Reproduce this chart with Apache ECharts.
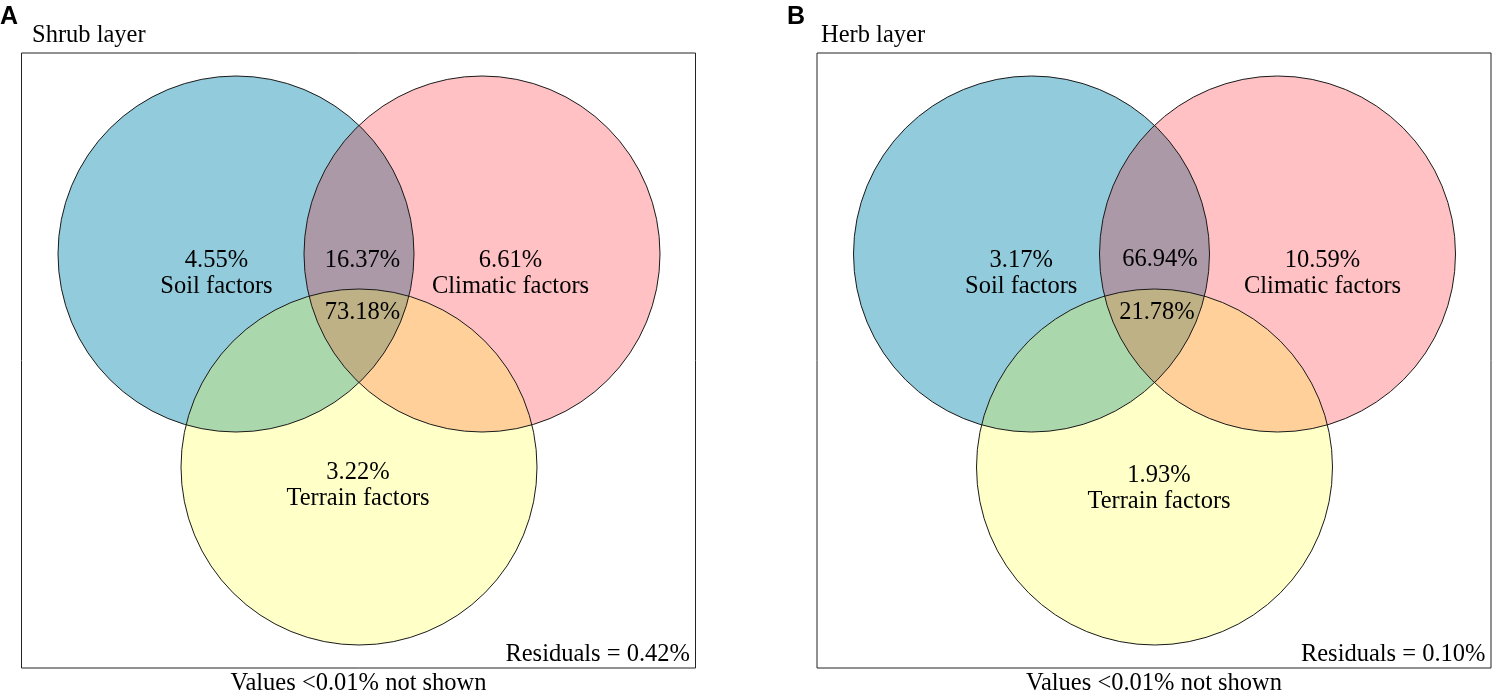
<!DOCTYPE html>
<html>
<head>
<meta charset="utf-8">
<script src="https://cdn.jsdelivr.net/npm/echarts@6/dist/echarts.min.js"></script>
<style>
    html, body { margin: 0; padding: 0; background: #fff; }
    #venn { width: 1495px; height: 695px; }
</style>
</head>
<body>
<div id="venn"></div>
<script>
// values (%)
var panelLetters = ['A', 'B'];
var panelTitles = ['Shrub layer', 'Herb layer'];
var factorNames = ['Soil factors', 'Climatic factors', 'Terrain factors'];
// order: soil, climatic, terrain, soil+climatic, all three
var shrubValues = [4.55, 6.61, 3.22, 16.37, 73.18];
var herbValues = [3.17, 10.59, 1.93, 66.94, 21.78];
var residuals = [0.42, 0.10];
var footNote = 'Values <0.01% not shown';

// layout (box units = px inside each frame)
var boxW = 674, boxH = 615;
var circleXY = [[214.5, 201], [460.5, 201], [337.5, 414]];
var circleR = 178;
var labelXY = [
    [[195, 220.7], [489, 220.7], [336.5, 432.3], [341, 208], [341, 259.5]],
    [[204.2, 220.8], [505.5, 220.8], [342, 435.3], [343, 207], [340, 259.5]]
];
var fills = ['#91cbdc', 'rgba(255,0,10,0.245)', 'rgba(255,255,30,0.245)'];
var gridLeft = [21.5, 817];
var serif = '"Liberation Serif", "Times New Roman", serif';

var chart = echarts.init(document.getElementById('venn'));

function renderCircle(params, api) {
    var c = api.coord([api.value(0), api.value(1)]);
    var r = api.size([api.value(2), 0])[0];
    var i = params.dataIndex;
    return {
        type: 'group',
        children: [
            {type: 'circle', z2: i, shape: {cx: c[0], cy: c[1], r: r}, style: {fill: fills[i], stroke: 'none'}},
            {type: 'circle', z2: 10, shape: {cx: c[0], cy: c[1], r: r}, style: {fill: 'none', stroke: '#1a1a1a', lineWidth: 1}}
        ]
    };
}

function labelRenderer(values) {
    return function (params, api) {
        var c = api.coord([api.value(0), api.value(1)]);
        var i = params.dataIndex;
        var txt = values[i].toFixed(2) + '%';
        if (i < 3) txt += '\n' + factorNames[i];
        return {
            type: 'text', z2: 20, x: c[0], y: c[1],
            style: {
                text: txt, fill: '#000', fontSize: 24.5, fontFamily: serif,
                align: 'center', verticalAlign: 'middle', lineHeight: 26
            }
        };
    };
}

var grids = [], xAxes = [], yAxes = [], series = [], graphics = [];
[shrubValues, herbValues].forEach(function (vals, p) {
    grids.push({left: gridLeft[p], top: 53, width: boxW, height: boxH, show: true,
        borderColor: '#222', borderWidth: 1, backgroundColor: '#fff'});
    xAxes.push({type: 'value', gridIndex: p, min: 0, max: boxW, show: false});
    yAxes.push({type: 'value', gridIndex: p, min: 0, max: boxH, inverse: true, show: false});
    series.push({
        type: 'custom', xAxisIndex: p, yAxisIndex: p, silent: true,
        data: circleXY.map(function (d) { return [d[0], d[1], circleR]; }),
        renderItem: renderCircle
    });
    series.push({
        type: 'custom', xAxisIndex: p, yAxisIndex: p, silent: true,
        data: labelXY[p],
        renderItem: labelRenderer(vals)
    });
    var x0 = gridLeft[p];
    graphics.push({type: 'text', x: p === 0 ? 0 : 787, y: 17, style: {
        text: panelLetters[p], fill: '#000', fontSize: 25, fontWeight: 'bold',
        fontFamily: '"Liberation Sans", Arial, sans-serif', verticalAlign: 'middle'}});
    graphics.push({type: 'text', x: p === 0 ? 32 : 821, y: 36, style: {
        text: panelTitles[p], fill: '#000', fontSize: 24.5, fontFamily: serif, verticalAlign: 'middle'}});
    graphics.push({type: 'text', x: x0 + boxW - 5.5, y: 655, style: {
        text: 'Residuals = ' + residuals[p].toFixed(2) + '%', fill: '#000', fontSize: 24.5,
        fontFamily: serif, align: 'right', verticalAlign: 'middle'}});
    graphics.push({type: 'text', x: x0 + boxW / 2, y: 684, style: {
        text: footNote, fill: '#000', fontSize: 24.5, fontFamily: serif,
        align: 'center', verticalAlign: 'middle'}});
});

chart.setOption({
    animation: false,
    backgroundColor: '#fff',
    grid: grids,
    xAxis: xAxes,
    yAxis: yAxes,
    series: series,
    graphic: graphics
});
</script>
</body>
</html>
